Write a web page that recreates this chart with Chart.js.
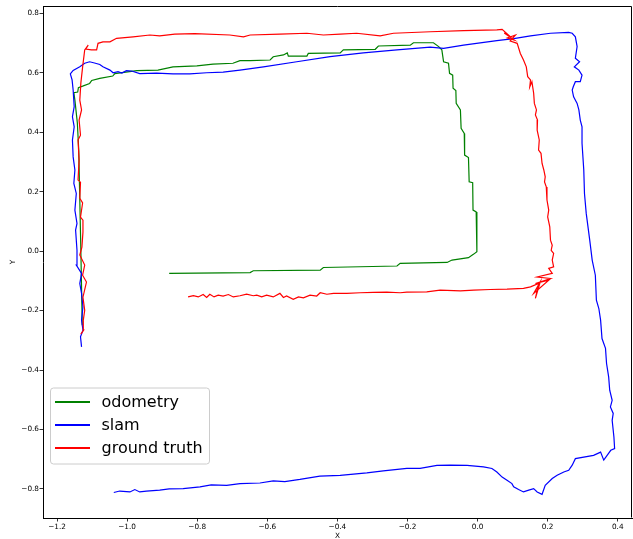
<!DOCTYPE html>
<html lang="en">
<head>
<meta charset="UTF-8">
<title>odometry / slam / ground truth</title>
<script src="https://cdn.jsdelivr.net/npm/chart.js"></script>
<style>
  body { margin: 0; background: #fff; }
  canvas { display: block; }
</style>
</head>
<body>
<canvas id="chart" width="633" height="539"></canvas>
<script>
  // axis ticks
  const xTicks = [-1.2, -1.0, -0.8, -0.6, -0.4, -0.2, 0.0, 0.2, 0.4];
  const yTicks = [-0.8, -0.6, -0.4, -0.2, 0.0, 0.2, 0.4, 0.6, 0.8];

  // odometry (green)
  const odomX = [-1.128,-1.132,-1.135,-1.138,-1.142,-1.149,-1.152,-1.141,-1.139,-1.127,
    -1.107,-1.101,-1.078,-1.041,-1.035,-0.972,-0.912,-0.869,-0.801,-0.755,
    -0.698,-0.678,-0.649,-0.592,-0.583,-0.554,-0.543,-0.540,-0.487,-0.483,
    -0.392,-0.383,-0.292,-0.283,-0.192,-0.183,-0.126,-0.111,-0.102,-0.097,
    -0.083,-0.080,-0.071,-0.070,-0.062,-0.061,-0.049,-0.047,-0.038,-0.037,
    -0.026,-0.024,-0.014,-0.013,-0.004,-0.002,-0.011,-0.026,-0.073,-0.087,
    -0.221,-0.230,-0.440,-0.449,-0.640,-0.649,-0.880];
  const odomY = [-0.249,0.003,0.172,0.340,0.431,0.508,0.533,0.535,0.550,0.555,
    0.564,0.574,0.581,0.589,0.597,0.607,0.609,0.620,0.623,0.629,
    0.632,0.641,0.641,0.643,0.654,0.660,0.667,0.656,0.656,0.665,
    0.667,0.677,0.679,0.690,0.693,0.701,0.701,0.688,0.677,0.637,
    0.632,0.598,0.592,0.548,0.540,0.497,0.475,0.413,0.396,0.323,
    0.315,0.233,0.230,0.138,0.132,-0.002,-0.010,-0.022,-0.030,-0.038,
    -0.041,-0.050,-0.055,-0.064,-0.066,-0.072,-0.075];

  // slam (blue)
  const slamX = [-1.130,-1.133,-1.126,-1.130,-1.126,-1.130,-1.135,-1.130,-1.145,-1.143,
    -1.147,-1.143,-1.149,-1.145,-1.152,-1.149,-1.154,-1.156,-1.151,-1.156,
    -1.151,-1.154,-1.157,-1.162,-1.154,-1.135,-1.121,-1.107,-1.093,-1.078,
    -1.069,-1.049,-1.040,-1.026,-1.015,-1.002,-0.987,-0.964,-0.916,-0.869,
    -0.821,-0.773,-0.726,-0.678,-0.611,-0.516,-0.421,-0.326,-0.230,-0.135,
    -0.097,-0.040,0.055,0.103,0.151,0.208,0.260,0.270,0.279,0.284,
    0.279,0.291,0.276,0.289,0.298,0.293,0.279,0.273,0.270,0.274,
    0.284,0.289,0.293,0.298,0.298,0.303,0.305,0.310,0.320,0.327,
    0.336,0.339,0.346,0.351,0.355,0.365,0.368,0.374,0.377,0.384,
    0.379,0.387,0.384,0.389,0.391,0.380,0.360,0.351,0.331,0.279,
    0.270,0.260,0.246,0.227,0.213,0.193,0.184,0.170,0.160,0.146,
    0.131,0.117,0.103,0.098,0.084,0.070,0.055,0.041,0.017,-0.030,
    -0.078,-0.116,-0.164,-0.202,-0.269,-0.316,-0.392,-0.450,-0.507,-0.550,
    -0.583,-0.621,-0.678,-0.716,-0.760,-0.792,-0.840,-0.880,-0.907,-0.945,
    -0.964,-0.978,-0.992,-1.021,-1.038];
  const slamY = [-0.322,-0.288,-0.266,-0.232,-0.187,-0.142,-0.109,-0.075,-0.047,0.003,
    0.071,0.093,0.138,0.194,0.228,0.273,0.317,0.374,0.418,0.452,
    0.486,0.542,0.576,0.596,0.608,0.620,0.632,0.637,0.633,0.628,
    0.620,0.609,0.600,0.604,0.599,0.607,0.606,0.597,0.599,0.596,
    0.596,0.600,0.602,0.609,0.620,0.637,0.654,0.667,0.677,0.686,
    0.682,0.693,0.708,0.715,0.724,0.733,0.736,0.733,0.721,0.688,
    0.649,0.637,0.620,0.609,0.592,0.570,0.570,0.553,0.542,0.519,
    0.497,0.475,0.441,0.418,0.363,0.273,0.194,0.127,0.037,-0.030,
    -0.081,-0.165,-0.193,-0.232,-0.294,-0.327,-0.378,-0.423,-0.468,-0.502,
    -0.524,-0.546,-0.569,-0.625,-0.664,-0.670,-0.703,-0.676,-0.687,-0.698,
    -0.720,-0.737,-0.743,-0.754,-0.765,-0.788,-0.818,-0.810,-0.799,-0.804,
    -0.810,-0.802,-0.793,-0.782,-0.771,-0.760,-0.743,-0.731,-0.726,-0.721,
    -0.720,-0.721,-0.731,-0.731,-0.739,-0.746,-0.754,-0.757,-0.768,-0.775,
    -0.773,-0.780,-0.782,-0.788,-0.786,-0.793,-0.799,-0.800,-0.804,-0.807,
    -0.810,-0.802,-0.810,-0.807,-0.812];

  // ground truth (red)
  const gtX = [-1.132,-1.124,-1.125,-1.121,-1.126,-1.116,-1.127,-1.121,-1.135,-1.129,
    -1.126,-1.126,-1.133,-1.127,-1.135,-1.133,-1.140,-1.137,-1.140,-1.133,
    -1.137,-1.130,-1.135,-1.132,-1.127,-1.121,-1.111,-1.118,-1.102,-1.087,
    -1.083,-1.069,-1.049,-1.030,-0.983,-0.935,-0.907,-0.864,-0.807,-0.707,
    -0.668,-0.649,-0.564,-0.487,-0.440,-0.392,-0.345,-0.278,-0.240,-0.135,
    -0.040,0.055,0.070,0.088,0.076,0.105,0.085,0.108,0.093,
    0.113,0.122,0.131,0.139,0.143,0.151,0.149,0.155,0.160,0.162,
    0.168,0.165,0.171,0.170,0.176,0.174,0.181,0.184,0.189,0.193,
    0.191,0.196,0.198,0.203,0.200,0.206,0.208,0.213,0.210,0.217,0.213,
    0.217,0.203,0.213,0.170,0.208,0.165,0.203,0.160,0.179,0.165,
    0.174,0.151,0.131,0.084,0.036,-0.011,-0.049,-0.107,-0.145,-0.202,
    -0.221,-0.259,-0.297,-0.335,-0.373,-0.411,-0.430,-0.449,-0.459,-0.478,
    -0.497,-0.511,-0.526,-0.545,-0.554,-0.564,-0.583,-0.602,-0.616,-0.630,
    -0.640,-0.659,-0.678,-0.697,-0.711,-0.726,-0.740,-0.752,-0.764,-0.773,
    -0.783,-0.797,-0.811,-0.826];
  const gtY = [-0.279,-0.266,-0.232,-0.199,-0.155,-0.104,-0.081,-0.047,-0.013,0.013,
    0.064,0.104,0.114,0.162,0.178,0.232,0.239,0.306,0.374,0.390,
    0.441,0.475,0.508,0.565,0.619,0.677,0.693,0.680,0.677,0.677,
    0.699,0.704,0.704,0.716,0.721,0.727,0.724,0.730,0.732,0.727,
    0.721,0.727,0.730,0.733,0.727,0.730,0.733,0.724,0.733,0.738,
    0.742,0.744,0.746,0.727,0.734,0.710,0.717,0.727,0.707,
    0.699,0.665,0.643,0.620,0.587,0.576,0.553,0.570,0.531,0.497,
    0.475,0.458,0.441,0.407,0.374,0.340,0.329,0.295,0.273,0.250,
    0.233,0.216,0.172,0.138,0.115,0.082,0.037,0.020,0.003,-0.008,-0.030,
    -0.053,-0.058,-0.075,-0.087,-0.092,-0.109,-0.098,-0.142,-0.103,-0.159,
    -0.109,-0.120,-0.125,-0.128,-0.129,-0.131,-0.134,-0.131,-0.137,-0.138,
    -0.140,-0.138,-0.139,-0.140,-0.142,-0.142,-0.145,-0.140,-0.151,-0.148,
    -0.157,-0.154,-0.162,-0.151,-0.156,-0.142,-0.154,-0.148,-0.154,-0.148,
    -0.150,-0.145,-0.150,-0.154,-0.146,-0.151,-0.148,-0.154,-0.145,-0.156,
    -0.146,-0.154,-0.150,-0.154];

  const FONT = '"DejaVu Sans", sans-serif';
  const toPoints = (xs, ys) => xs.map((x, i) => ({ x: x, y: ys[i] }));
  const fmt = v => (v < 0 ? '\u2212' : '') + Math.abs(v).toFixed(1);

  // matplotlib-like frame (top + right spines)
  const frame = {
    id: 'frame',
    afterDraw(chart) {
      const { ctx, chartArea: a } = chart;
      ctx.save();
      ctx.strokeStyle = '#000';
      ctx.lineWidth = 1;
      ctx.beginPath();
      ctx.moveTo(Math.round(a.left) + 0.5, Math.round(a.top) + 0.5);
      ctx.lineTo(Math.round(a.right) - 0.5, Math.round(a.top) + 0.5);
      ctx.lineTo(Math.round(a.right) - 0.5, Math.round(a.bottom) - 0.5);
      ctx.stroke();
      ctx.restore();
    }
  };

  // legend box inside the axes, like plt.legend()
  const legendBox = {
    id: 'legendBox',
    afterDraw(chart) {
      const { ctx, chartArea: a } = chart;
      const x0 = a.left + 7, y0 = a.top + 381.5;
      const w = 159, h = 76;
      ctx.save();
      ctx.beginPath();
      ctx.roundRect(x0 + 0.5, y0 + 0.5, w, h, 3);
      ctx.fillStyle = 'rgba(255,255,255,0.8)';
      ctx.fill();
      ctx.strokeStyle = '#cccccc';
      ctx.lineWidth = 1;
      ctx.stroke();
      ctx.font = '16px ' + FONT;
      ctx.textBaseline = 'middle';
      chart.data.datasets.forEach((ds, i) => {
        const y = y0 + 14.5 + i * 23;
        ctx.strokeStyle = ds.borderColor;
        ctx.lineWidth = 2;
        ctx.beginPath();
        ctx.moveTo(x0 + 5, y);
        ctx.lineTo(x0 + 40, y);
        ctx.stroke();
        ctx.fillStyle = '#000';
        ctx.fillText(ds.label, x0 + 51.5, y + 0.5);
      });
      ctx.restore();
    }
  };

  const tickFont = { family: FONT, size: 7.3 };
  const grid = { drawOnChartArea: false, drawTicks: true, tickLength: 3.5, tickColor: '#000', tickWidth: 0.8 };

  new Chart(document.getElementById('chart'), {
    type: 'scatter',
    data: {
      datasets: [
        { label: 'odometry', data: toPoints(odomX, odomY), borderColor: '#008000', order: 3 },
        { label: 'slam', data: toPoints(slamX, slamY), borderColor: '#0000ff', order: 2 },
        { label: 'ground truth', data: toPoints(gtX, gtY), borderColor: '#ff0000', order: 1 }
      ].map(d => Object.assign(d, { showLine: true, pointRadius: 0, borderWidth: 1.2, tension: 0, fill: false }))
    },
    options: {
      responsive: false,
      animation: false,
      layout: { padding: { top: 6, right: 1, left: 0, bottom: 0 } },
      plugins: { legend: { display: false }, tooltip: { enabled: false } },
      scales: {
        x: {
          type: 'linear', min: -1.24, max: 0.4406,
          afterBuildTicks: s => { s.ticks = xTicks.map(v => ({ value: v })); },
          afterFit: s => { s.height = 21; },
          grid: grid,
          border: { display: true, color: '#000', width: 1 },
          ticks: { color: '#000', font: tickFont, padding: 1, maxRotation: 0, autoSkip: false, callback: fmt },
          title: { display: true, text: 'X', color: '#000', font: { family: FONT, size: 7.3, lineHeight: 0.8 }, padding: 0 }
        },
        y: {
          type: 'linear', min: -0.8977, max: 0.8246,
          afterBuildTicks: s => { s.ticks = yTicks.map(v => ({ value: v })); },
          afterFit: s => { s.width = 43; },
          grid: grid,
          border: { display: true, color: '#000', width: 1 },
          ticks: { color: '#000', font: tickFont, padding: 0.5, autoSkip: false, callback: fmt },
          title: { display: true, text: 'Y', color: '#000', font: { family: FONT, size: 7.3, lineHeight: 0.8 }, padding: { top: 10, bottom: 0 } }
        }
      }
    },
    plugins: [frame, legendBox]
  });
</script>
</body>
</html>
